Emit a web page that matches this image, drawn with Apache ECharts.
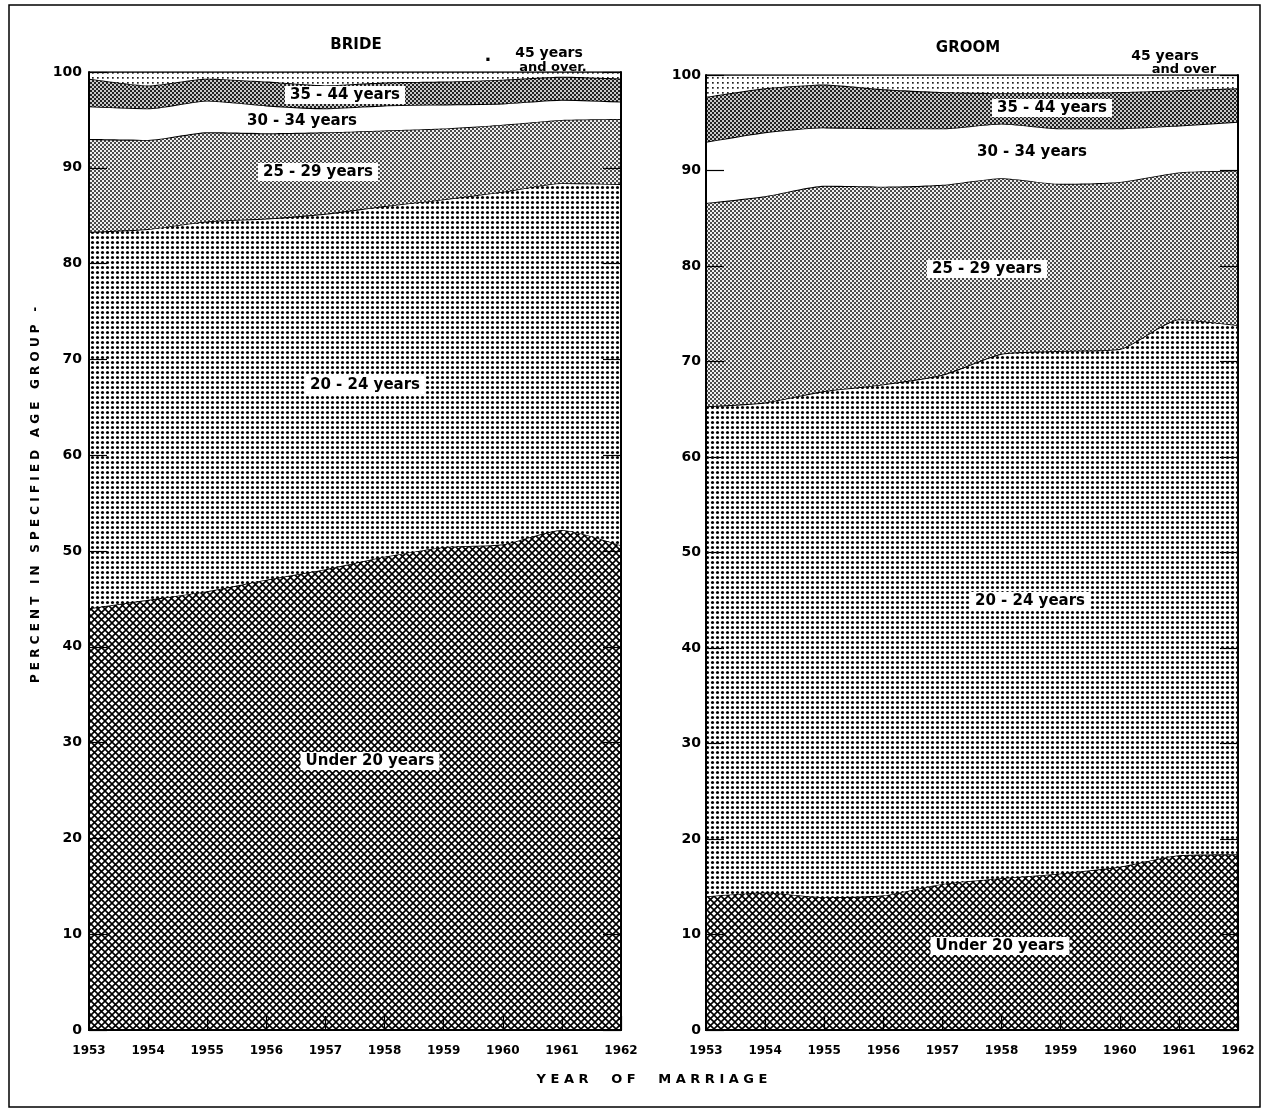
<!DOCTYPE html>
<html>
<head>
<meta charset="utf-8">
<script src="https://cdn.jsdelivr.net/npm/echarts@6/dist/echarts.min.js"></script>
<style>
html,body{margin:0;padding:0;background:#fff;}
#chart{width:1264px;height:1111px;}
</style>
</head>
<body>
<div id="chart"></div>
<script>
// ---- DATA ----
const years = ['1953','1954','1955','1956','1957','1958','1959','1960','1961','1962'];
const yTicks = [0,10,20,30,40,50,60,70,80,90,100];
const bandNames = ['Under 20 years','20-24 years','25-29 years','30-34 years','35-44 years','45 years and over'];

// Bride: percent in each age group (bands stack to 100)
const brideUnder20 = [44.0, 44.9, 45.8, 47.0, 48.1, 49.4, 50.4, 50.7, 52.2, 50.6];
const bride20to24  = [39.3, 38.7, 38.6, 37.7, 37.1, 36.6, 36.3, 36.8, 36.2, 37.7];
const bride25to29  = [ 9.7,  9.3,  9.3,  8.9,  8.5,  7.9,  7.4,  7.0,  6.6,  6.8];
const bride30to34  = [ 3.4,  3.3,  3.3,  2.9,  2.5,  2.6,  2.5,  2.2,  2.1,  1.8];
const bride35to44  = [ 2.9,  2.4,  2.3,  2.5,  2.4,  2.4,  2.4,  2.5,  2.4,  2.4];
const bride45plus  = [ 0.7,  1.4,  0.7,  1.0,  1.4,  1.1,  1.0,  0.8,  0.5,  0.7];

// Groom
const groomUnder20 = [14.0, 14.4, 13.9, 14.1, 15.3, 15.9, 16.4, 17.1, 18.3, 18.4];
const groom20to24  = [51.3, 51.3, 53.0, 53.5, 53.3, 54.9, 54.7, 54.2, 56.1, 55.4];
const groom25to29  = [21.3, 21.6, 21.5, 20.7, 19.9, 18.4, 17.5, 17.5, 15.4, 16.2];
const groom30to34  = [ 6.4,  6.7,  6.1,  6.1,  5.9,  5.7,  5.8,  5.6,  4.9,  5.1];
const groom35to44  = [ 4.7,  4.6,  4.5,  4.1,  3.8,  3.2,  3.7,  3.8,  3.7,  3.5];
const groom45plus  = [ 2.3,  1.4,  1.0,  1.5,  1.8,  1.9,  1.9,  1.8,  1.6,  1.4];

const brideBands = [brideUnder20, bride20to24, bride25to29, bride30to34, bride35to44, bride45plus];
const groomBands = [groomUnder20, groom20to24, groom25to29, groom30to34, groom35to44, groom45plus];

// ---- PATTERNS ----
function tile(w, h, draw){
  const c = document.createElement('canvas');
  c.width = w; c.height = h;
  const g = c.getContext('2d');
  draw(g, w, h);
  return c;
}
const patCross = tile(7, 7, (g,w,h)=>{
  g.fillStyle='#fff'; g.fillRect(0,0,w,h);
  g.strokeStyle='#000'; g.lineWidth=1.6;
  g.beginPath();
  g.moveTo(-2,-2); g.lineTo(w+2,h+2);
  g.moveTo(-2,h+2); g.lineTo(w+2,-2);
  g.stroke();
});
const patDots = tile(5, 5, (g,w,h)=>{
  g.fillStyle='#fff'; g.fillRect(0,0,w,h);
  g.fillStyle='#000';
  g.beginPath(); g.arc(2.5,2.5,1.55,0,Math.PI*2); g.fill();
});
const patGray = tile(4, 4, (g)=>{
  g.fillStyle='#eeeeee'; g.fillRect(0,0,4,4);
  g.fillStyle='#4a4a4a'; g.fillRect(0,0,2,2); g.fillRect(2,2,2,2);
});
const patWhite = '#ffffff';
const patDark = tile(4, 4, (g)=>{
  g.fillStyle='#c8c8c8'; g.fillRect(0,0,4,4);
  g.fillStyle='#222'; g.fillRect(0,0,2,2); g.fillRect(2,2,2,2);
});
const patSparse = tile(5, 5, (g,w,h)=>{
  g.fillStyle='#fff'; g.fillRect(0,0,w,h);
  g.fillStyle='#222';
  g.fillRect(2,2,1.7,1.7);
});
const fills = [
  {image: patCross, repeat:'repeat'},
  {image: patDots, repeat:'repeat'},
  {image: patGray, repeat:'repeat'},
  patWhite,
  {image: patDark, repeat:'repeat'},
  {image: patSparse, repeat:'repeat'}
];

// ---- CHART ----
const FONT = '"DejaVu Sans", "Liberation Sans", sans-serif';
const chart = echarts.init(document.getElementById('chart'), null, {renderer:'canvas'});

function xAxes(gi){
  return [{
    type:'category', gridIndex:gi, data:years, boundaryGap:false, position:'bottom', z:10,
    axisLine:{show:true, lineStyle:{color:'#000', width:2}},
    axisTick:{show:true, inside:true, length:14, lineStyle:{color:'#000', width:1.2}},
    axisLabel:{color:'#000', fontFamily:FONT, fontWeight:'bold', fontSize:12, margin:15},
    splitLine:{show:false}
  },{
    type:'category', gridIndex:gi, data:years, boundaryGap:false, position:'top', z:10,
    axisLine:{show:true, lineStyle:{color:'#000', width:2}},
    axisTick:{show:false}, axisLabel:{show:false}, splitLine:{show:false}
  }];
}
function yAxes(gi){
  return [{
    type:'value', gridIndex:gi, min:0, max:100, interval:10, position:'left', z:10,
    axisLine:{show:true, lineStyle:{color:'#000', width:2}},
    axisTick:{show:true, inside:true, length:18, lineStyle:{color:'#000', width:1.2}},
    axisLabel:{color:'#000', fontFamily:FONT, fontWeight:'bold', fontSize:14, margin:gi===0?7:5},
    splitLine:{show:false}
  },{
    type:'value', gridIndex:gi, min:0, max:100, interval:10, position:'right', z:10,
    axisLine:{show:true, lineStyle:{color:'#000', width:2}},
    axisTick:{show:true, inside:true, length:18, lineStyle:{color:'#000', width:1.2}},
    axisLabel:{show:false}, splitLine:{show:false}
  }];
}

const series = [];
[brideBands, groomBands].forEach((bands, gi)=>{
  bands.forEach((vals, bi)=>{
    series.push({
      name: bandNames[bi] + (gi===0?' (bride)':' (groom)'),
      type:'line', stack: gi===0?'bride':'groom',
      xAxisIndex: gi*2, yAxisIndex: gi*2,
      data: vals, symbol:'none', smooth:0.2,
      lineStyle:{color:'#000', width:1.7},
      areaStyle:{color: fills[bi], opacity:1},
      z: 2 + bi*0.01,
      silent:true
    });
  });
});

function label(x, y, text){
  return {
    type:'text', x:x, y:y, z:50,
    style:{
      text:text, fill:'#000', font:'bold 15px ' + FONT,
      align:'center', verticalAlign:'middle', textAlign:'center', textVerticalAlign:'middle',
      backgroundColor:'#fff', padding:[2,5,1,5]
    }
  };
}
function plain(x, y, text, size, align, rot){
  return {
    type:'text', x:x, y:y, z:50, rotation: rot||0,
    style:{
      text:text, fill:'#000', font:'bold ' + (size||14) + 'px ' + FONT,
      align:align||'center', verticalAlign:'middle', textAlign:align||'center', textVerticalAlign:'middle'
    }
  };
}

const graphic = [
  {type:'rect', shape:{x:9, y:5, width:1251, height:1102}, style:{fill:null, stroke:'#000', lineWidth:1.5}, z:0, silent:true},
  plain(356, 45, 'BRIDE', 15),
  plain(968, 48, 'GROOM', 15),
  plain(36, 495, 'P E R C E N T   I N   S P E C I F I E D   A G E   G R O U P   -', 12, 'center', Math.PI/2),
  plain(652, 1080, 'Y E A R     O F     M A R R I A G E', 13),
  // bride labels
  plain(488, 56, '.', 18),
  plain(549, 53, '45 years', 14),
  plain(553, 68, 'and over.', 13),
  label(345, 95, '35 - 44 years'),
  label(302, 121, '30 - 34 years'),
  label(318, 172, '25 - 29 years'),
  label(365, 385, '20 - 24 years'),
  label(370, 761, 'Under 20 years'),
  // groom labels
  plain(1165, 56, '45 years', 14),
  plain(1184, 70, 'and over', 13),
  label(1052, 108, '35 - 44 years'),
  label(1032, 152, '30 - 34 years'),
  label(987, 269, '25 - 29 years'),
  label(1030, 601, '20 - 24 years'),
  label(1000, 946, 'Under 20 years')
];

chart.setOption({
  animation:false,
  backgroundColor:'#fff',
  grid:[
    {left:89, top:72, width:532, height:958, containLabel:false},
    {left:706, top:75, width:532, height:955, containLabel:false}
  ],
  xAxis:[...xAxes(0), ...xAxes(1)],
  yAxis:[...yAxes(0), ...yAxes(1)],
  series: series,
  graphic: graphic
});
</script>
</body>
</html>
